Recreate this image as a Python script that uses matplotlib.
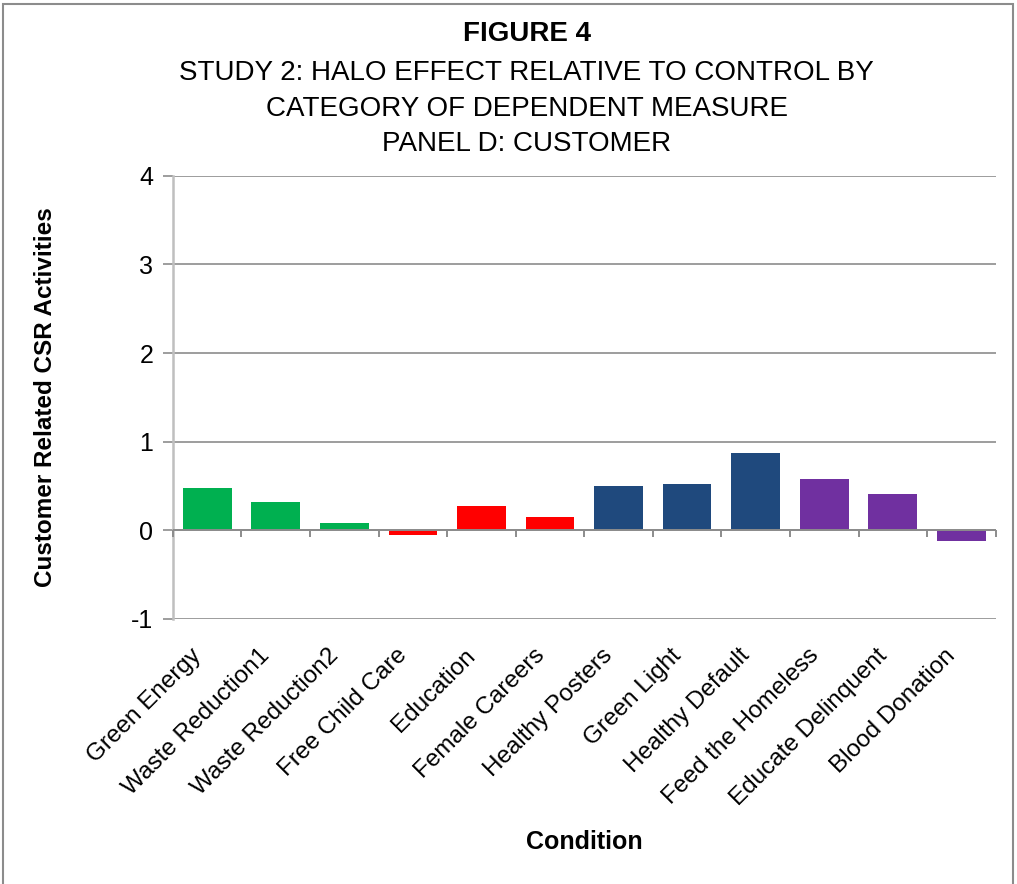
import numpy as np
import matplotlib.pyplot as plt
import matplotlib.transforms as mtransforms
from matplotlib.patches import Rectangle

plt.rcParams['font.family'] = ['Liberation Sans', 'DejaVu Sans']

# Halo effect on customer-related CSR ratings, by condition
conditions = ['Green Energy', 'Waste Reduction1', 'Waste Reduction2', 'Free Child Care',
              'Education', 'Female Careers', 'Healthy Posters', 'Green Light',
              'Healthy Default', 'Feed the Homeless', 'Educate Delinquent', 'Blood Donation']
effects = [0.48, 0.32, 0.08, -0.05, 0.27, 0.15, 0.50, 0.52, 0.87, 0.58, 0.41, -0.12]
bar_colors = ['#00B050'] * 3 + ['#FF0000'] * 3 + ['#1F497D'] * 3 + ['#7030A0'] * 3

fig = plt.figure(figsize=(10.17, 8.84), dpi=100)
ax = fig.add_axes([0.170, 0.2998, 0.809, 0.5013])

x = np.arange(len(conditions))
ax.bar(x, effects, width=0.71, color=bar_colors, zorder=3)

ax.set_xlim(-0.5, len(conditions) - 0.5)
ax.set_ylim(-1, 4)
ax.set_yticks([-1, 0, 1, 2, 3, 4])
ax.set_yticklabels(['-1', '0', '1', '2', '3', '4'], fontsize=18)
ax.yaxis.grid(True, color='#8C8C8C', linewidth=1.2, zorder=0)
ax.tick_params(axis='y', length=7, color='#8C8C8C', width=1.2, pad=7)

for side in ['top', 'right', 'bottom']:
    ax.spines[side].set_visible(False)
ax.spines['left'].set_color('#BFBFBF')
ax.spines['left'].set_linewidth(1.8)

# category axis drawn at zero with tick marks between categories
ax.axhline(0, color='#8C8C8C', linewidth=1.4, zorder=4)
ax.vlines(np.arange(len(conditions) + 1) - 0.5, 0, -0.07, color='#8C8C8C',
          linewidth=1.4, clip_on=False, zorder=4)

ax.set_xticks(x)
ax.set_xticklabels(conditions, rotation=45, ha='right', va='center',
                   rotation_mode='anchor', fontsize=17.5)
ax.tick_params(axis='x', length=0, pad=24)
# nudge rotated labels so they end just left of the category centre
shift = mtransforms.ScaledTranslation(-9 / 100, 0, fig.dpi_scale_trans)
for lbl in ax.get_xticklabels():
    lbl.set_transform(lbl.get_transform() + shift)

ax.set_ylabel('Customer Related CSR Activities', fontsize=17.5, fontweight='bold')
ax.yaxis.set_label_coords(-0.141, 0.5)
fig.text(0.575, 0.047, 'Condition', ha='center', va='center', fontsize=18,
         fontweight='bold')

fig.text(0.518, 0.962, 'FIGURE 4', ha='center', va='center', fontsize=20,
         fontweight='bold')
fig.text(0.518, 0.917, 'STUDY 2: HALO EFFECT RELATIVE TO CONTROL BY', ha='center',
         va='center', fontsize=20)
fig.text(0.518, 0.877, 'CATEGORY OF DEPENDENT MEASURE', ha='center', va='center',
         fontsize=20)
fig.text(0.518, 0.837, 'PANEL D: CUSTOMER', ha='center', va='center', fontsize=20)

# chart frame
fig.patches.append(Rectangle((0.003, -0.01), 0.993, 1.006, transform=fig.transFigure,
                             fill=False, edgecolor='#8C8C8C', linewidth=1.5))

fig.savefig('out.png', dpi=100)
